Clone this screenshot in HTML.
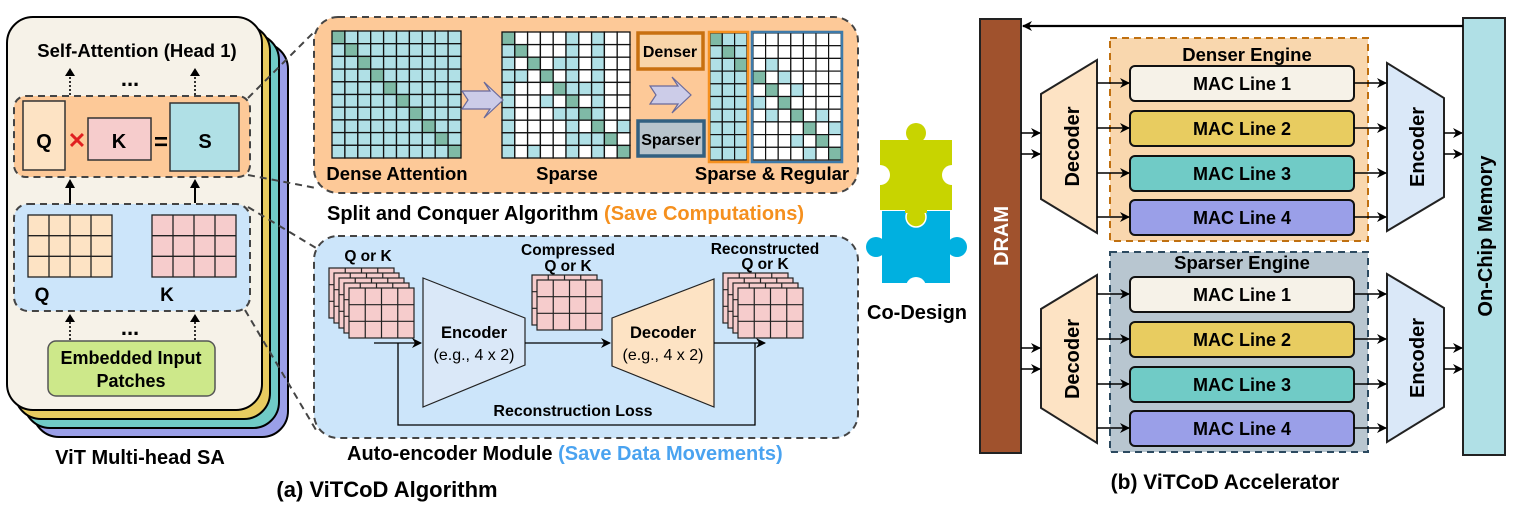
<!DOCTYPE html>
<html><head><meta charset="utf-8">
<style>
html,body{margin:0;padding:0;background:#fff;}
svg{display:block;}
text{font-family:"Liberation Sans",Arial,sans-serif;font-weight:bold;}
</style></head>
<body>
<svg id="s" width="1516" height="514" viewBox="0 0 1516 514" xmlns="http://www.w3.org/2000/svg">
<defs>
<marker id="ah" markerWidth="10" markerHeight="10" refX="9" refY="5" orient="auto" markerUnits="userSpaceOnUse"><path d="M0,0 L10,5 L0,10 L3,5 z" fill="#000"/></marker>
</defs>

<!-- stacked cards -->
<rect x="33" y="43" width="255" height="394" rx="26" fill="#9a9fe8" stroke="#000" stroke-width="2"/>
<rect x="24" y="34" width="255" height="394" rx="26" fill="#70cbc6" stroke="#000" stroke-width="2"/>
<rect x="15" y="25" width="255" height="394" rx="26" fill="#e8cc60" stroke="#000" stroke-width="2"/>
<rect x="7" y="17" width="255" height="393" rx="26" fill="#f6f2e8" stroke="#000" stroke-width="2"/>

<text x="137" y="57" font-size="18.5" text-anchor="middle">Self-Attention (Head 1)</text>
<text x="130" y="86" font-size="22" text-anchor="middle">...</text>
<g stroke="#000" stroke-width="1.6" stroke-dasharray="2,2"><line x1="70" y1="95" x2="70" y2="74"/><line x1="195" y1="95" x2="195" y2="74"/><line x1="70" y1="340" x2="70" y2="320"/><line x1="195" y1="340" x2="195" y2="320"/></g>
<g fill="#000"><path d="M65,76 L70,68 L75,76z"/><path d="M190,76 L195,68 L200,76z"/><path d="M65,322 L70,314 L75,322z"/><path d="M190,322 L195,314 L200,322z"/></g>

<rect x="14" y="96" width="236" height="81" rx="12" fill="#fdc998" stroke="#444" stroke-width="2" stroke-dasharray="7,5"/>
<rect x="23" y="101" width="42" height="69" fill="#fde3c4" stroke="#333" stroke-width="1.5"/>
<text x="44" y="148" font-size="20" text-anchor="middle">Q</text>
<text x="77" y="148" font-size="22" fill="#e02020" text-anchor="middle">✕</text>
<rect x="88" y="118" width="63" height="42" fill="#f6cccc" stroke="#333" stroke-width="1.5"/>
<text x="119" y="148" font-size="20" text-anchor="middle">K</text>
<text x="161" y="150" font-size="24" text-anchor="middle">=</text>
<rect x="170" y="103" width="69" height="68" fill="#b0e0e6" stroke="#333" stroke-width="1.5"/>
<text x="205" y="148" font-size="20" text-anchor="middle">S</text>

<g stroke="#000" stroke-width="2"><line x1="70" y1="203" x2="70" y2="186"/><line x1="195" y1="203" x2="195" y2="186"/><line x1="70" y1="305" x2="70" y2="288"/><line x1="195" y1="305" x2="195" y2="288"/></g>
<g fill="#000"><path d="M65,188 L70,179 L75,188z"/><path d="M190,188 L195,179 L200,188z"/><path d="M65,290 L70,281 L75,290z"/><path d="M190,290 L195,281 L200,290z"/></g>

<rect x="14" y="204" width="236" height="107" rx="14" fill="#cce5fa" stroke="#444" stroke-width="2" stroke-dasharray="7,5"/>
<g id="qg"></g>
<text x="42" y="301" font-size="19" text-anchor="middle">Q</text>
<text x="167" y="301" font-size="19" text-anchor="middle">K</text>
<text x="130" y="335" font-size="22" text-anchor="middle">...</text>
<rect x="48" y="341" width="167" height="55" rx="8" fill="#cde88a" stroke="#555" stroke-width="1.5"/>
<text x="131" y="364" font-size="18" text-anchor="middle">Embedded Input</text>
<text x="131" y="387" font-size="18" text-anchor="middle">Patches</text>
<text x="140" y="464" font-size="20" text-anchor="middle">ViT Multi-head SA</text>
<text x="387" y="497" font-size="22" text-anchor="middle">(a) ViTCoD Algorithm</text>

<!-- connector dashes -->
<g stroke="#444" stroke-width="2" stroke-dasharray="7,5" fill="none">
<line x1="248" y1="98" x2="316" y2="30"/>
<line x1="248" y1="175" x2="316" y2="188"/>
<line x1="248" y1="207" x2="316" y2="248"/>
<line x1="245" y1="310" x2="316" y2="430"/>
</g>

<!-- orange panel -->
<rect x="314" y="17" width="544" height="176" rx="24" fill="#fdc998" stroke="#444" stroke-width="2" stroke-dasharray="7,5"/>
<g id="mats"></g>
<path d="M462,91 L490,91 L484,82 L503,100 L484,118 L490,109 L462,109 L468,100z" fill="#cccce8" stroke="#6a6a9a" stroke-width="1.2"/>
<path d="M650,86 L678,86 L672,77 L691,95 L672,113 L678,104 L650,104 L656,95z" fill="#cccce8" stroke="#6a6a9a" stroke-width="1.2"/>
<rect x="638" y="33" width="65" height="36" fill="#f8d5aa" stroke="#c87010" stroke-width="3.5"/>
<text x="670" y="57" font-size="16" text-anchor="middle">Denser</text>
<rect x="638" y="121" width="66" height="35" fill="#b8c4cc" stroke="#336080" stroke-width="3.5"/>
<text x="671" y="145" font-size="16" text-anchor="middle">Sparser</text>
<text x="397" y="180" font-size="18.5" text-anchor="middle">Dense Attention</text>
<text x="567" y="180" font-size="18.5" text-anchor="middle">Sparse</text>
<text x="772" y="180" font-size="18.5" text-anchor="middle">Sparse &amp; Regular</text>
<text x="327" y="220" font-size="20">Split and Conquer Algorithm <tspan fill="#f5901e">(Save Computations)</tspan></text>

<!-- blue panel -->
<rect x="314" y="236" width="544" height="202" rx="24" fill="#cce5fa" stroke="#444" stroke-width="2" stroke-dasharray="7,5"/>
<text x="368" y="261" font-size="15.5" text-anchor="middle">Q or K</text>
<text x="568" y="255" font-size="15.5" text-anchor="middle">Compressed</text>
<text x="568" y="271" font-size="15.5" text-anchor="middle">Q or K</text>
<text x="765" y="254" font-size="15.5" text-anchor="middle">Reconstructed</text>
<text x="765" y="269" font-size="15.5" text-anchor="middle">Q or K</text>
<g id="stacks"></g>
<path d="M423,278 L525,318 L525,365 L423,407z" fill="#dae8f8" stroke="#222" stroke-width="1.2"/>
<text x="474" y="338" font-size="16.5" text-anchor="middle">Encoder</text>
<text x="474" y="360" font-size="16" text-anchor="middle" style="font-weight:normal">(e.g., 4 x 2)</text>
<path d="M612,318 L714,279 L714,407 L612,366z" fill="#fde3c4" stroke="#222" stroke-width="1.2"/>
<text x="663" y="338" font-size="16.5" text-anchor="middle">Decoder</text>
<text x="663" y="360" font-size="16" text-anchor="middle" style="font-weight:normal">(e.g., 4 x 2)</text>
<g stroke="#000" stroke-width="1.3" fill="none">
<line x1="374" y1="343" x2="421" y2="343" marker-end="url(#ah)"/>
<line x1="525" y1="343" x2="610" y2="343" marker-end="url(#ah)"/>
<line x1="714" y1="343" x2="765" y2="343" marker-end="url(#ah)"/>
<polyline points="398,343 398,425 755,425 755,343"/>
</g>
<text x="573" y="416" font-size="16" text-anchor="middle">Reconstruction Loss</text>
<text x="347" y="460" font-size="20">Auto-encoder Module <tspan fill="#4aa3f0">(Save Data Movements)</tspan></text>

<!-- puzzle -->
<g>
<rect x="882" y="211" width="68" height="72" fill="#00b0e0"/>
<circle cx="876" cy="247" r="10" fill="#00b0e0"/><circle cx="957" cy="247" r="10" fill="#00b0e0"/>
<circle cx="916" cy="287" r="10" fill="#fff"/>
<rect x="880" y="140" width="72" height="70" fill="#c8d400"/>
<circle cx="916" cy="133" r="10" fill="#c8d400"/>
<circle cx="880" cy="175" r="10" fill="#fff"/><circle cx="952" cy="175" r="10" fill="#fff"/>
<circle cx="916" cy="217" r="10" fill="#c8d400" stroke="#fff" stroke-width="1.5"/>
<rect x="905" y="205" width="22" height="8" fill="#c8d400"/>
</g>
<text x="917" y="319" font-size="20" text-anchor="middle">Co-Design</text>

<!-- accelerator -->
<rect x="980" y="19" width="41" height="434" fill="#a0522d" stroke="#222" stroke-width="2"/>
<text transform="translate(1008,236) rotate(-90)" font-size="20" fill="#fff" text-anchor="middle">DRAM</text>
<rect x="1463" y="18" width="42" height="437" fill="#b0e0e6" stroke="#222" stroke-width="2"/>
<text transform="translate(1492,236) rotate(-90)" font-size="20" text-anchor="middle">On-Chip Memory</text>
<line x1="1463" y1="26" x2="1023" y2="26" stroke="#000" stroke-width="2.2" marker-end="url(#ah)"/>

<rect x="1110" y="38" width="258" height="203" fill="#f9d7ae" stroke="#c07010" stroke-width="2" stroke-dasharray="7,5"/>
<text x="1247" y="61" font-size="18.5" text-anchor="middle">Denser Engine</text>
<rect x="1110" y="252" width="258" height="200" fill="#b8c6d0" stroke="#2c4a60" stroke-width="2" stroke-dasharray="7,5"/>
<text x="1242" y="269" font-size="18.5" text-anchor="middle">Sparser Engine</text>
<g id="acc"></g>
</svg>
<script>
var NS="http://www.w3.org/2000/svg";
function el(p,t,a){var e=document.createElementNS(NS,t);for(var k in a)e.setAttribute(k,a[k]);p.appendChild(e);return e;}
function grid(p,x,y,w,h,c,r,fill,sw,stroke){el(p,"rect",{x:x,y:y,width:w,height:h,fill:fill,stroke:stroke||"#222","stroke-width":sw});
 for(var i=1;i<c;i++)el(p,"line",{x1:x+w*i/c,y1:y,x2:x+w*i/c,y2:y+h,stroke:stroke||"#222","stroke-width":sw});
 for(var j=1;j<r;j++)el(p,"line",{x1:x,y1:y+h*j/r,x2:x+w,y2:y+h*j/r,stroke:stroke||"#222","stroke-width":sw});}
var qg=document.getElementById("qg");
grid(qg,28,215,84,62,4,3,"#fde3c4",1.3);grid(qg,152,215,84,62,4,3,"#f6cccc",1.3);
var m=document.getElementById("mats");
var T="#b0e0e6",D="#7fbaa6",W="#ffffff";
function mat(x,y,cw,ch,pat,bw){for(var i=0;i<pat.length;i++)for(var j=0;j<pat[i].length;j++){var c=pat[i][j];
 el(m,"rect",{x:x+j*cw,y:y+i*ch,width:cw,height:ch,fill:c=="D"?D:c=="T"?T:W,stroke:"#111","stroke-width":bw});}}
var dense=[];for(var i=0;i<10;i++){var s="";for(var j=0;j<10;j++)s+=(i==j?"D":"T");dense.push(s);}
mat(332,31,12.9,12.7,dense,1.3);
var sp=["DWWWWTWTWW","TDWWWTWTWW","TWDWTTWTWW","TTWDWTWTWW","TWWWDTTTWW","TWWTWDWTWW","TWWWTTDTWW","TWWWWTWDWT","TWWWWTTTDW","TWTWWTWTWD"];
mat(502,32,12.8,12.6,sp,1.3);
var oc=["DTT","TDT","TTD","TTT","TTT","TTT","TTT","TTT","TTT","TTT"];
mat(710,33,12.3,12.7,oc,1.2);
var bc=["WWWWWWW","WWWWWWW","WTWWWWW","DWTWWWW","WDWTWWW","TWDWWWW","WTWDWTW","WWWWDWT","WWWTWDW","WWWWTWD"];
mat(753,33,12.6,12.7,bc,1.2);
el(m,"rect",{x:709,y:32,width:39,height:130,fill:"none",stroke:"#f5901e","stroke-width":2.5});
el(m,"rect",{x:752,y:32,width:90,height:130,fill:"none",stroke:"#3d7aaa","stroke-width":2.5});
var st=document.getElementById("stacks");
function stack(x,y,n,dx){for(var k=n-1;k>=0;k--)grid(st,x-k*dx,y-k*dx,65,50,4,3,"#f6cccc",1.2);}
stack(349,288,5,5);stack(537,280,2,5);stack(738,288,4,5);
var a=document.getElementById("acc");
var cols=["#f6f2e8","#e8cc60","#70cbc6","#9a9fe8"];
var ys=[[66,111,156,200],[277,322,367,411]];
var names=["MAC Line 1","MAC Line 2","MAC Line 3","MAC Line 4"];
function arr(x1,y,x2){el(a,"line",{x1:x1,y1:y,x2:x2,y2:y,stroke:"#000","stroke-width":1.5,"marker-end":"url(#ah)"});}
var dec=[[60,233,94,199],[275,443,309,408]],enc=[[63,231,98,197],[274,442,308,407]];
for(var g=0;g<2;g++){
 var d=dec[g];el(a,"path",{d:"M1097,"+d[0]+" L1097,"+d[1]+" L1041,"+d[3]+" L1041,"+d[2]+"z",fill:"#fde3c4",stroke:"#222","stroke-width":2});
 var mid=(d[0]+d[1])/2;var t=el(a,"text",{transform:"translate(1079,"+mid+") rotate(-90)","font-size":"20","text-anchor":"middle"});t.textContent="Decoder";
 var e=enc[g];el(a,"path",{d:"M1387,"+e[0]+" L1444,"+e[2]+" L1444,"+e[3]+" L1387,"+e[1]+"z",fill:"#dae8f8",stroke:"#222","stroke-width":2});
 var mid2=(e[0]+e[1])/2;t=el(a,"text",{transform:"translate(1424,"+mid2+") rotate(-90)","font-size":"20","text-anchor":"middle"});t.textContent="Encoder";
 for(var i=0;i<4;i++){var y=ys[g][i];
  el(a,"rect",{x:1130,y:y,width:224,height:35,rx:5,fill:cols[i],stroke:"#111","stroke-width":2});
  t=el(a,"text",{x:1242,y:y+24,"font-size":"18","text-anchor":"middle"});t.textContent=names[i];
  arr(1097,y+17,1129);arr(1354,y+17,1386);}
 var b=g==0?133:348;arr(1021,b,1040);arr(1021,b+21,1040);arr(1444,b,1462);arr(1444,b+21,1462);
}
</script>
<div style="position:absolute;left:1075px;top:471px;width:300px;text-align:center;font:bold 21px 'Liberation Sans',sans-serif;">(b) ViTCoD Accelerator</div>
</body></html>
